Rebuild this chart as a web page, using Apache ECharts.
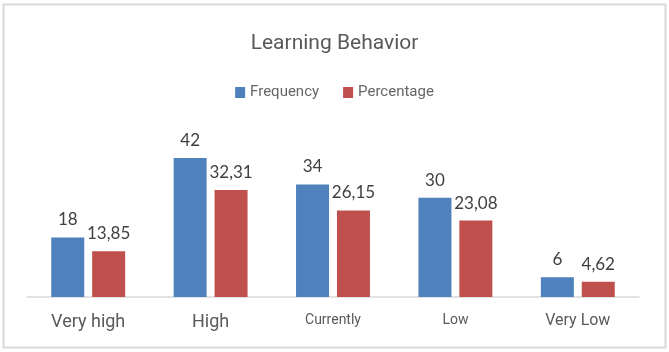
<!DOCTYPE html>
<html>
<head>
<meta charset="utf-8">
<script src="https://cdn.jsdelivr.net/npm/echarts@6/dist/echarts.min.js"></script>
<style>
  html, body { margin: 0; padding: 0; background: #fff; }
  #chart { width: 669px; height: 352px; }
</style>
</head>
<body>
<div id="chart"></div>
<script>
const categories = ['Very high', 'High', 'Currently', 'Low', 'Very Low'];
const frequency = [18, 42, 34, 30, 6];
const percentage = [13.85, 32.31, 26.15, 23.08, 4.62];

document.addEventListener('DOMContentLoaded', function () {
    const chart = echarts.init(document.getElementById('chart'));

    // category labels in the original use mixed font sizes
    const catSizes = [18, 18, 14, 14, 16];
    const rich = {};
    catSizes.forEach((s, i) => {
        rich['s' + i] = { fontSize: s, color: '#595959', fontFamily: 'Roboto' };
    });

    const valueLabel = {
        show: true,
        position: 'top',
        distance: 9,
        fontSize: 17,
        fontFamily: 'Lato',
        color: '#404040',
        formatter: p => String(p.value).replace('.', ',')
    };

    const option = {
        animation: false,
        title: {
            text: 'Learning Behavior',
            left: 'center',
            top: 28,
            textStyle: { fontFamily: 'Roboto', fontSize: 21, fontWeight: 'normal', color: '#595959' }
        },
        legend: {
            top: 80,
            left: 'center',
            itemWidth: 10,
            itemHeight: 11,
            itemGap: 24,
            icon: 'rect',
            textStyle: { fontFamily: 'Roboto', fontSize: 15, color: '#666666' },
            data: ['Frequency', 'Percentage']
        },
        grid: { left: 27, right: 30, top: 148, bottom: 55 },
        xAxis: {
            type: 'category',
            data: categories,
            axisLine: { lineStyle: { color: '#d9d9d9', width: 1.5 } },
            axisTick: { show: false },
            axisLabel: {
                margin: 16,
                formatter: (v, i) => '{s' + i + '|' + v + '}',
                rich: rich
            }
        },
        yAxis: {
            type: 'value',
            min: 0,
            max: 45,
            show: false
        },
        series: [
            {
                name: 'Frequency',
                type: 'bar',
                data: frequency,
                barWidth: 33,
                barGap: '24%',
                itemStyle: { color: '#4F81BD' },
                label: valueLabel
            },
            {
                name: 'Percentage',
                type: 'bar',
                data: percentage,
                barWidth: 33,
                itemStyle: { color: '#C0504D' },
                label: valueLabel
            }
        ],
        graphic: [{
            type: 'rect',
            shape: { x: 3.5, y: 4.5, width: 662, height: 343 },
            style: { fill: 'none', stroke: '#d9d9d9', lineWidth: 2 },
            silent: true
        }]
    };

    chart.setOption(option);
});
</script>
</body>
</html>
